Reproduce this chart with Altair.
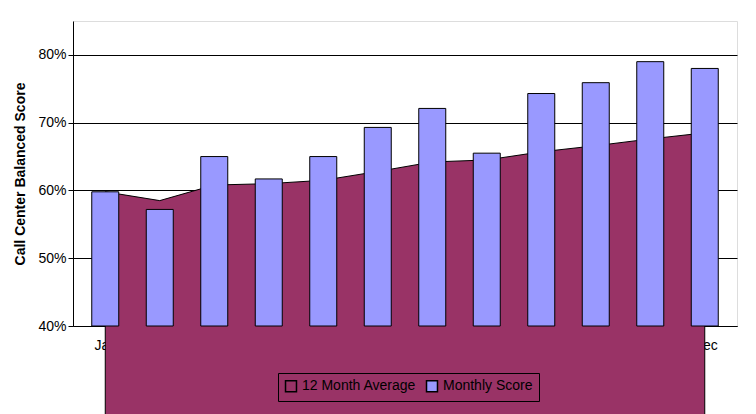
import altair as alt
import pandas as pd

months = ["Jan","Feb","Mar","Apr","May","Jun","Jul","Aug","Sep","Oct","Nov","Dec"]
monthly = [59.8,57.2,65.0,61.7,65.0,69.3,72.1,65.5,74.3,75.9,79.0,78.0]
avg12 = [59.8,58.5,60.8,61.0,61.5,62.8,64.2,64.5,65.7,66.6,67.6,68.5]
yticks = [0.40,0.45,0.50,0.55,0.60,0.65,0.70,0.75,0.80,0.85]

df = pd.DataFrame({"i": list(range(12)), "month": months,
                   "Monthly Score": [v/100 for v in monthly],
                   "12 Month Average": [v/100 for v in avg12]})

labexpr = "[" + ",".join(f"'{m}'" for m in months) + "][datum.value]"
x = alt.X("i:Q", scale=alt.Scale(domain=[-0.5, 11.5], nice=False, zero=False), title=None,
          axis=alt.Axis(values=list(range(12)), labelExpr=labexpr, grid=False,
                        ticks=False, labelPadding=12, labelFontSize=14,
                        labelColor="black", domainColor="black"))
yscale = alt.Scale(domain=[0.4, 0.85], nice=False, zero=False)
y = alt.Y("v:Q", scale=yscale, title="Call Center Balanced Score",
          axis=alt.Axis(format=".0%", values=yticks,
                        gridColor="black", gridOpacity=1, tickColor="black",
                        labelFontSize=14, labelColor="black", domainColor="black",
                        titleFontSize=14, titleFontWeight="bold", titlePadding=10))
color = alt.Color("s:N", scale=alt.Scale(domain=["12 Month Average","Monthly Score"],
                                         range=["#993366","#9999FF"]),
                  legend=alt.Legend(title=None, orient="none", legendX=205, legendY=352,
                                    direction="horizontal", symbolType="square",
                                    symbolSize=120, symbolStrokeColor="black",
                                    labelFontSize=14, labelColor="black",
                                    strokeColor="black", padding=6, columnPadding=6))

area = alt.Chart(df).transform_fold(["12 Month Average"], as_=["s","v"]).mark_area(
    stroke="black", strokeWidth=1).encode(x=x, y=y, color=color)
bars = alt.Chart(df).transform_fold(["Monthly Score"], as_=["s","v"]).mark_bar(
    size=27, stroke="black", strokeWidth=1).encode(x=x, y=alt.Y("v:Q", scale=yscale), y2=alt.datum(0.4), color=color)

chart = (area + bars).properties(width=664, height=305, background="white",
        padding={"left":5,"top":13,"right":5,"bottom":5}
    ).configure_view(fill="#C0C0C0", stroke="black", strokeWidth=1
    ).configure(font="Liberation Sans")
chart.save("out.html", embed_options={"renderer": "svg", "actions": False})
